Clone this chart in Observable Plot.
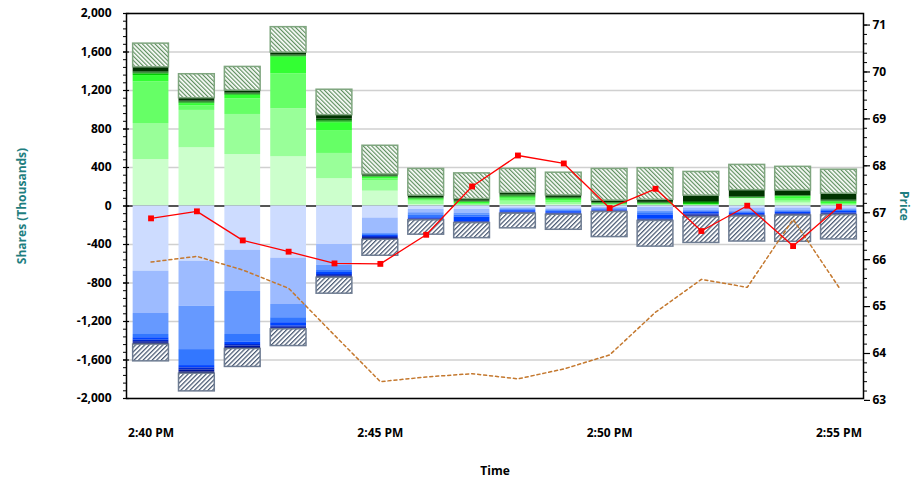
<!DOCTYPE html>
<html><head><meta charset="utf-8">
<script src="https://cdn.jsdelivr.net/npm/d3@7"></script>
<script src="https://cdn.jsdelivr.net/npm/@observablehq/plot@0.6"></script>
<style>
body{margin:0;background:#fff;}
svg{font-family:"Open Sans",sans-serif;}
</style></head><body><div id="chart"></div>
<script>
// ---- data ----
const times = ["2:40","2:41","2:42","2:43","2:44","2:45","2:46","2:47","2:48","2:49","2:50","2:51","2:52","2:53","2:54","2:55"];
const xTickLabels = ["2:40","2:45","2:50","2:55"];

const buyLevel1 = [483,605,535,511,283,154,16,5,16,16,5,5,3,75,30,5];
const buyLevel2 = [374,388,416,499,263,111,34,5,34,19,5,5,3,3,20,10];
const buyLevel3 = [433,47,163,364,232,16,10,10,21,16,5,5,5,0,21,10];
const buyLevel4 = [65,23,34,173,87,16,10,16,15,18,5,5,5,0,25,16];
const buyLevel5 = [16,6,7,5,9,4,5,4,8,6,4,5,10,5,3,5];
const buyLevel6 = [10,10,8,6,12,5,5,5,10,6,5,5,10,6,5,6];
const buyLevel7 = [12,10,10,10,16,6,7,6,12,8,6,8,10,7,5,8];
const buyLevel8 = [48,31,26,26,42,16,21,21,21,21,21,26,62,68,52,68];
const buyOther  = [246,249,246,264,264,298,277,267,249,236,329,329,246,263,246,249];

const sellLevel1 = [677,574,459,542,400,125,36,36,19,29,16,16,21,21,21,21];
const sellLevel2 = [440,468,429,481,215,156,34,42,10,10,10,38,21,31,21,16];
const sellLevel3 = [218,450,447,138,55,16,28,16,10,10,8,16,10,10,10,10];
const sellLevel4 = [34,166,80,52,21,10,24,21,10,10,8,23,10,10,10,10];
const sellLevel5 = [25,24,24,35,21,10,8,46,16,16,8,45,21,16,16,16];
const sellLevel6 = [16,21,16,12,12,10,6,6,5,5,4,6,10,7,7,7];
const sellLevel7 = [16,21,16,11,11,10,5,5,5,5,4,5,10,7,7,7];
const sellLevel8 = [14,18,14,10,10,14,8,6,5,6,5,6,14,7,8,8];
const sellOther  = [174,184,187,174,166,166,149,156,152,156,260,267,267,260,272,252];

const lastPrice = [66.88,67.03,66.41,66.17,65.92,65.91,66.53,67.56,68.22,68.05,67.10,67.51,66.61,67.15,66.29,67.13];
const avgPrice  = [65.95,66.07,65.78,65.39,64.39,63.40,63.50,63.57,63.46,63.67,63.97,64.88,65.58,65.41,66.86,65.41];

const shareTicks = [-2000,-1600,-1200,-800,-400,0,400,800,1200,1600,2000];
const shareTickLabels = ["-2,000","-1,600","-1,200","-800","-400","0","400","800","1,200","1,600","2,000"];
const priceTicks = [63,64,65,66,67,68,69,70,71];

// ---- build ----
const buySeries = [["buy1",buyLevel1],["buy2",buyLevel2],["buy3",buyLevel3],["buy4",buyLevel4],["buy5",buyLevel5],["buy6",buyLevel6],["buy7",buyLevel7],["buy8",buyLevel8],["buyOther",buyOther]];
const sellSeries = [["sell1",sellLevel1],["sell2",sellLevel2],["sell3",sellLevel3],["sell4",sellLevel4],["sell5",sellLevel5],["sell6",sellLevel6],["sell7",sellLevel7],["sell8",sellLevel8],["sellOther",sellOther]];
const segNames = [...buySeries, ...sellSeries].map(d => d[0]);
const segFills = ["#ccffcc","#99ff99","#66ff66","#33ff33","#00cc00","#009900","#006600","#003300","url(#hatchBuy)",
                  "#cddcff","#9dbbff","#6699ff","#3377ff","#0044ff","#0028d0","#0016a0","#000a6e","url(#hatchSell)"];

const rows = [];
for (const [seg, vals] of buySeries) times.forEach((t, i) => rows.push({time: t, seg, v: vals[i]}));
for (const [seg, vals] of sellSeries) times.forEach((t, i) => rows.push({time: t, seg, v: -vals[i]}));
const priceRows = times.map((t, i) => ({time: t, last: lastPrice[i], avg: avgPrice[i]}));

const priceToShares = d3.scaleLinear().domain([63, 71]).range([-2020, 1880]);
const shareMinor = d3.range(-2000, 2001, 80);
const priceMinor = d3.range(63, 71.001, 0.2).map(p => priceToShares(p));
const priceMajor = priceTicks.map(p => priceToShares(p));
const shareLabel = v => shareTickLabels[shareTicks.indexOf(v)];

const teal = "#1e7e80";
const blank = () => "";

const svg = Plot.plot({
  width: 917, height: 482,
  marginLeft: 126, marginRight: 54, marginTop: 13, marginBottom: 84,
  style: {fontFamily: "'Open Sans', sans-serif", fontSize: "12px", fontWeight: "bold", background: "white", color: "black"},
  x: {type: "band", domain: times, paddingInner: 0.22, paddingOuter: 0.145, round: false},
  y: {domain: [-2000, 2000]},
  color: {domain: segNames, range: segFills},
  marks: [
    Plot.gridY(shareTicks, {stroke: "#d0d0d0", strokeOpacity: 1, strokeWidth: 1.5}),
    Plot.ruleY([0], {stroke: "#555", strokeWidth: 2}),
    Plot.barY(rows, Plot.stackY({x: "time", y: "v", z: "seg", fill: "seg", order: segNames})),
    Plot.barY(rows, Plot.filter(d => d.seg === "buyOther", Plot.stackY({x: "time", y: "v", z: "seg", order: segNames, fill: "none", stroke: "#7fa67f", strokeWidth: 1.5}))),
    Plot.barY(rows, Plot.filter(d => d.seg === "sellOther", Plot.stackY({x: "time", y: "v", z: "seg", order: segNames, fill: "none", stroke: "#6e7c92", strokeWidth: 1.5}))),
    Plot.line(priceRows, {x: "time", y: d => priceToShares(d.avg), stroke: "#c4782e", strokeWidth: 1.5, strokeDasharray: "3,3"}),
    Plot.line(priceRows, {x: "time", y: d => priceToShares(d.last), stroke: "#ff0000", strokeWidth: 1.3}),
    Plot.dot(priceRows, {x: "time", y: d => priceToShares(d.last), symbol: "square", r: 3.3, fill: "#ff0000", stroke: "none"}),
    Plot.frame({stroke: "black", strokeWidth: 1.5}),
    Plot.axisY(shareMinor, {anchor: "left", tickSize: 3, strokeWidth: 1, tickFormat: blank, label: null}),
    Plot.axisY(shareTicks, {anchor: "left", tickSize: 6, dx: 3, strokeWidth: 1.2, tickFormat: blank, label: null}),
    Plot.axisY(shareTicks, {anchor: "left", tickSize: 0, tickPadding: 15, tickFormat: shareLabel, label: null}),
    Plot.axisY(priceMinor, {anchor: "right", tickSize: 3, strokeWidth: 1, tickFormat: blank, label: null}),
    Plot.axisY(priceMajor, {anchor: "right", tickSize: 6, strokeWidth: 1.2, tickFormat: blank, label: null}),
    Plot.axisY(priceMajor, {anchor: "right", tickSize: 0, tickPadding: 9, tickFormat: v => String(Math.round(priceToShares.invert(v))), label: null}),
    Plot.axisX(xTickLabels, {anchor: "bottom", tickSize: 0, tickPadding: 30, tickFormat: d => d + " PM", label: null}),
    Plot.text(["Shares (Thousands)"], {frameAnchor: "left", textAnchor: "middle", dx: -104, dy: 0, rotate: -90, fill: teal, fontWeight: "bold", fontSize: 12}),
    Plot.text(["Price"], {frameAnchor: "right", textAnchor: "middle", dx: 40, dy: 0, rotate: 90, fill: teal, fontWeight: "bold", fontSize: 12}),
    Plot.text(["Time"], {frameAnchor: "bottom", dy: 76, fill: "black", fontWeight: "bold", fontSize: 12})
  ]
});

d3.select(svg).insert("defs", ":first-child").html(`
  <pattern id="hatchBuy" patternUnits="userSpaceOnUse" width="3" height="3" patternTransform="rotate(-45)">
    <rect width="3" height="3" fill="white"/>
    <line x1="0.6" y1="0" x2="0.6" y2="3" stroke="#5e8f5e" stroke-width="1.2"/>
  </pattern>
  <pattern id="hatchSell" patternUnits="userSpaceOnUse" width="3.2" height="3.2" patternTransform="rotate(45)">
    <rect width="3.2" height="3.2" fill="white"/>
    <line x1="0.6" y1="0" x2="0.6" y2="3.2" stroke="#4b5b74" stroke-width="1.3"/>
  </pattern>`);

document.getElementById("chart").appendChild(svg);
</script>
</body></html>
